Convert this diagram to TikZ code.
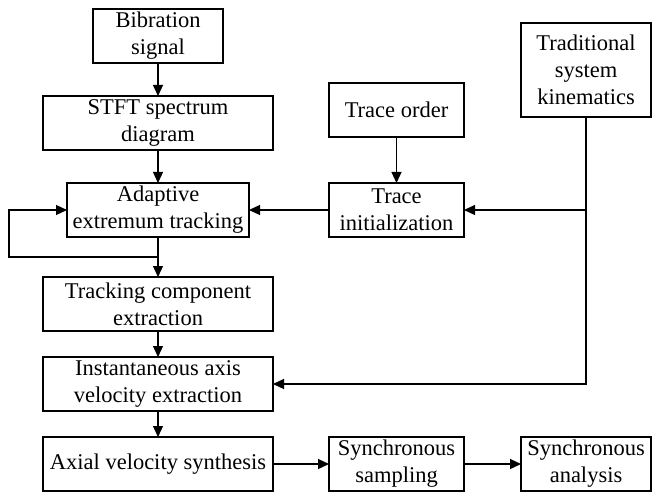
\documentclass[tikz,border=0pt]{standalone}
\usepackage{fontspec}
\setmainfont{Liberation Serif}
\usetikzlibrary{arrows.meta, positioning}

\begin{document}
\begin{tikzpicture}[
        x=1pt, y=1pt,
        node distance=33pt and 56pt,
        font=\fontsize{22.5}{27}\selectfont,
        % box styles
        block/.style={rectangle, draw=black, line width=1.2pt, minimum height=54pt, align=center, inner xsep=2pt, inner ysep=0pt, outer sep=0pt},
        wide/.style={block, minimum width=230pt},
        narrow/.style={block, minimum width=135pt},
        arrow/.style={line width=1.2pt, -{Triangle[length=11pt, width=10pt]}},
        line/.style={line width=1.2pt}
    ]
    \useasboundingbox (0,0) rectangle (652,-494);

    % --- left column ---
    \node[block, minimum width=130pt] (bib) at (158,-36) {Bibration\\signal};
    \node[wide, below=of bib] (stft) {STFT spectrum\\diagram};
    \node[block, minimum width=182pt, below=of stft] (adapt) {Adaptive\\extremum tracking};
    \node[wide, below=40pt of adapt] (track) {Tracking component\\extraction};
    \node[wide, below=26pt of track] (inst) {Instantaneous axis\\velocity extraction};
    \node[wide, below=26pt of inst] (axial) {Axial velocity synthesis};

    % --- middle and right ---
    \node[narrow, right=80pt of adapt] (init) {Trace\\initialization};
    \node[narrow, above=46pt of init] (order) {Trace order};
    \node[block, minimum width=130pt, minimum height=94pt] (trad) at (586,-70) {Traditional\\system\\kinematics};
    \node[narrow, right=56pt of axial] (sampling) {Synchronous\\sampling};
    \node[block, minimum width=130pt, right=57pt of sampling] (analysis) {Synchronous\\analysis};

    % helper points
    \coordinate[below=20pt of adapt] (split);
    \coordinate[left=149pt of split] (loopturn);
    \coordinate (tap) at (trad.south |- init.east);

    % --- main flow ---
    \draw[arrow] (bib) -- (stft);
    \draw[arrow] (stft) -- (adapt);
    \draw[arrow] (adapt) -- (track);
    \draw[arrow] (track) -- (inst);
    \draw[arrow] (inst) -- (axial);
    \draw[arrow] (axial) -- (sampling);
    \draw[arrow] (sampling) -- (analysis);

    % --- feedback loop ---
    \draw[arrow] (split) -- (loopturn) |- (adapt.west);

    % --- side inputs ---
    \draw[arrow] (order) -- (init);
    \draw[arrow] (init) -- (adapt);
    \draw[arrow] (trad.south) |- (inst.east);
    \draw[arrow] (tap) -- (init);

\end{tikzpicture}
\end{document}
